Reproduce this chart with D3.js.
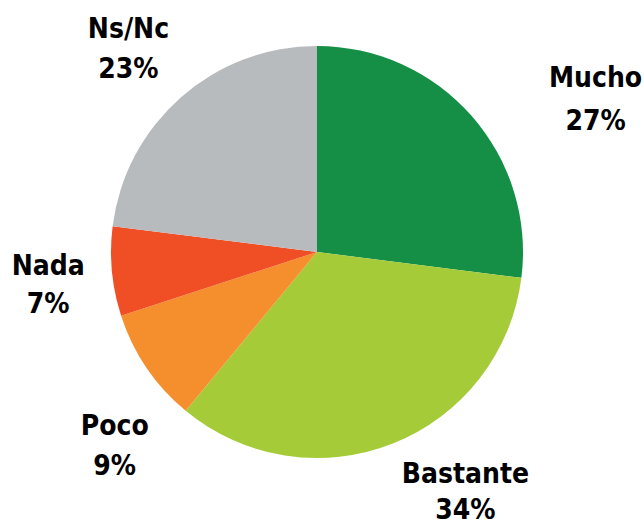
<!DOCTYPE html>
<html>
<head>
<meta charset="utf-8">
<script src="https://cdn.jsdelivr.net/npm/d3@7"></script>
<style>
  body { margin: 0; background: #fff; }
  svg { display: block; }
  .lbl { font-family: "DejaVu Sans Condensed", "DejaVu Sans", sans-serif; font-weight: bold; font-size: 28px; fill: #000; }
</style>
</head>
<body>
<svg id="chart"></svg>
<script>
var width = 644,
    height = 525;

// data
var categories = ['Mucho', 'Bastante', 'Poco', 'Nada', 'Ns/Nc'];
var values = [27, 34, 9, 7, 23];
var colors = ['#148f45', '#a5cb39', '#f58f2d', '#f04e25', '#b8bbbe'];

// label nudges off the label arc, and spacing between the two lines
var labelNudge = [[76, 35], [49, -2], [21, 51], [0, 17], [-10, 9]];
var lineGap = [43, 36, 40, 38, 40];

var cx = 317, cy = 252, radius = 206;

var svg = d3.select('#chart')
    .attr('width', width)
    .attr('height', height);

var g = svg.append('g')
    .attr('transform', 'translate(' + cx + ',' + cy + ')');

var pie = d3.pie().sort(null).value(function(d) { return d; });
var arcs = pie(values);

var arc = d3.arc().innerRadius(0).outerRadius(radius);
var labelArc = d3.arc().innerRadius(270).outerRadius(270);

g.selectAll('path')
    .data(arcs)
    .enter()
    .append('path')
    .attr('d', arc)
    .attr('fill', function(d, i) { return colors[i]; });

var label = g.selectAll('text.lbl')
    .data(arcs)
    .enter()
    .append('text')
    .attr('class', 'lbl')
    .attr('text-anchor', 'middle')
    .attr('transform', function(d, i) {
        var c = labelArc.centroid(d);
        return 'translate(' + (c[0] + labelNudge[i][0]) + ',' + (c[1] + labelNudge[i][1]) + ')';
    });

label.append('tspan')
    .attr('x', 0)
    .attr('y', function(d, i) { return -lineGap[i] / 2; })
    .text(function(d, i) { return categories[i]; });

label.append('tspan')
    .attr('x', 0)
    .attr('y', function(d, i) { return lineGap[i] / 2; })
    .text(function(d, i) { return values[i] + '%'; });
</script>
</body>
</html>
